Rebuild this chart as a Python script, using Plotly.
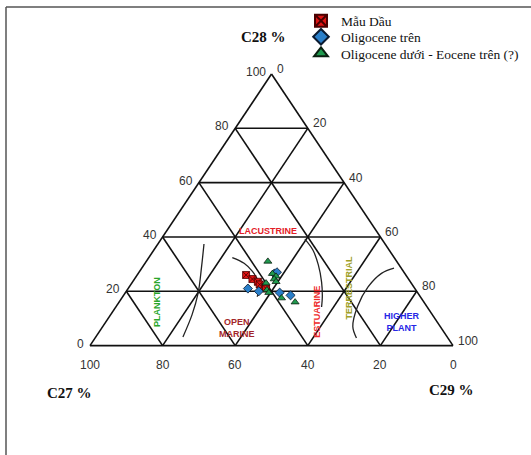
import plotly.graph_objects as go

# ---- sample compositions: C27 / C28 / C29 steranes (%) ----
mau_dau_c27 = [44, 43, 42, 42, 41, 41]
mau_dau_c28 = [26, 24.5, 23.5, 22.5, 21.5, 21]
mau_dau_c29 = [30, 32.5, 34.5, 35.5, 37.5, 38]

olig_tren_c27 = [46, 43.5, 38, 35.5, 36, 35]
olig_tren_c28 = [21, 20, 19.5, 18.5, 26.5, 27]
olig_tren_c29 = [33, 36.5, 42.5, 46, 37.5, 38]

olig_duoi_c27 = [35.5, 36.5, 36, 37, 37, 40, 41, 41, 38.5, 35.5]
olig_duoi_c28 = [31, 26.5, 25.5, 24.5, 23.5, 23, 20.5, 19.5, 17.5, 16]
olig_duoi_c29 = [33.5, 37, 38.5, 38.5, 39.5, 37, 38.5, 39.5, 44, 48.5]

# ---- depositional-environment boundary curves (C28, C29 in %) ----
plankton_c28 = [37.4, 28.6, 19.4, 11.3, 3.2]
plankton_c29 = [12.7, 16.4, 20.1, 22.45, 24.0]

marine_c28 = [32.4, 30.3, 27.3, 23.6, 20.5, 18.0]
marine_c29 = [23.0, 27.3, 31.1, 34.6, 36.7, 37.0]

estuarine_c28 = [39.2, 35.2, 29.7, 23.4, 17.9, 14.2]
estuarine_c29 = [39.6, 43.8, 48.05, 52.1, 55.05, 56.7]

higher_c28 = [28.5, 26.6, 21.6, 14.4, 7.0, 2.8]
higher_c29 = [69.5, 67.0, 65.8, 66.5, 68.9, 72.0]

ticks = [0, 20, 40, 60, 80, 100]
grid_vals = [20, 40, 60, 80]


def proj(c27, c28, c29):
    """Ternary (C27, C28, C29) -> cartesian (x, y); C27 left, C29 right, C28 apex."""
    xs, ys = [], []
    for a, b, c in zip(c27, c28, c29):
        s = a + b + c
        xs.append(100 * (c + b / 2) / s)
        ys.append(100 * b / s)
    return xs, ys


fig = go.Figure()

# ---- triangle outline and grid ----
line_style = dict(color="#111111", width=1.6)
seg_x, seg_y = [], []


def add_seg(p, q):
    x, y = proj([p[0], q[0]], [p[1], q[1]], [p[2], q[2]])
    seg_x.extend(x + [None])
    seg_y.extend(y + [None])


add_seg((100, 0, 0), (0, 100, 0))
add_seg((0, 100, 0), (0, 0, 100))
add_seg((0, 0, 100), (100, 0, 0))
for v in grid_vals:
    add_seg((100 - v, v, 0), (0, v, 100 - v))      # constant C28
    add_seg((v, 100 - v, 0), (v, 0, 100 - v))      # constant C27
    add_seg((0, 100 - v, v), (100 - v, 0, v))      # constant C29

fig.add_trace(go.Scatter(x=seg_x, y=seg_y, mode="lines", line=line_style,
                         hoverinfo="skip", showlegend=False))

# ---- environment boundary curves ----
for c28, c29 in [(plankton_c28, plankton_c29), (marine_c28, marine_c29),
                 (estuarine_c28, estuarine_c29), (higher_c28, higher_c29)]:
    c27 = [100 - a - b for a, b in zip(c28, c29)]
    x, y = proj(c27, c28, c29)
    fig.add_trace(go.Scatter(x=x, y=y, mode="lines",
                             line=dict(color="#222222", width=1.3, shape="spline"),
                             hoverinfo="skip", showlegend=False))

# ---- samples (each series gets its own legend row) ----
series = [
    ("Mẫu Dầu", mau_dau_c27, mau_dau_c28, mau_dau_c29,
     dict(symbol="square-x", color="#e01414", size=7,
          line=dict(color="#4a0000", width=0.8)), "legend"),
    ("Oligocene trên", olig_tren_c27, olig_tren_c28, olig_tren_c29,
     dict(symbol="diamond", color="#2a7fc9", size=7,
          line=dict(color="#0a1a30", width=0.8)), "legend2"),
    ("Oligocene dưới - Eocene trên (?)", olig_duoi_c27, olig_duoi_c28, olig_duoi_c29,
     dict(symbol="triangle-up", color="#1f9a4e", size=7,
          line=dict(color="#0a2010", width=0.8)), "legend3"),
]
for name, a, b, c, mk, lg in series:
    x, y = proj(a, b, c)
    fig.add_trace(go.Scatter(x=x, y=y, mode="markers", name=name, marker=mk,
                             legend=lg))

# ---- tick labels ----
tick_font = dict(family="Liberation Sans, Arial", size=12, color="#333333")
for v in ticks:
    # C28 along the left edge
    x, y = proj([100 - v], [v], [0])
    fig.add_annotation(x=x[0], y=y[0], text=str(v), showarrow=False,
                       xanchor="right", yanchor="middle", xshift=-4, yshift=2,
                       font=tick_font)
    # C29 along the right edge
    x, y = proj([0], [100 - v], [v])
    fig.add_annotation(x=x[0], y=y[0], text=str(v), showarrow=False,
                       xanchor="left", yanchor="middle", xshift=3, yshift=5,
                       font=tick_font)
    # C27 along the base
    x, y = proj([v], [0], [100 - v])
    fig.add_annotation(x=x[0], y=y[0], text=str(v), showarrow=False,
                       xanchor="center", yanchor="middle", yshift=-19,
                       font=tick_font)

# ---- axis titles ----
title_font = dict(family="Liberation Serif", size=15, color="#111111")
for txt, px, py in [("<b>C28 %</b>", 263, 37), ("<b>C27 %</b>", 69, 393),
                    ("<b>C29 %</b>", 451, 390)]:
    fig.add_annotation(x=px / 531, y=1 - py / 455, xref="paper", yref="paper",
                       text=txt, showarrow=False, font=title_font,
                       xanchor="center", yanchor="middle")

# ---- environment labels ----
env_font = "Liberation Sans"
env_labels = [
    ("<b>LACUSTRINE</b>", 49.0, 42.2, "#e42028", 0),
    ("<b>PLANKTON</b>", 18.5, 16.1, "#2aa62a", -90),
    ("<b>OPEN<br>MARINE</b>", 40.5, 6.5, "#a3262a", 0),
    ("<b>ESTUARINE</b>", 62.5, 12.4, "#ee2a2a", -90),
    ("<b>TERRESTRIAL</b>", 71.2, 21.6, "#a0a028", -90),
    ("<b>HIGHER<br>PLANT</b>", 86.0, 8.7, "#2626e6", 0),
]
for txt, x, y, col, ang in env_labels:
    fig.add_annotation(x=x, y=y, text=txt, showarrow=False, textangle=ang,
                       font=dict(family=env_font, size=9, color=col),
                       xanchor="center", yanchor="middle")

# ---- frame lines (top and left) ----
frame = dict(color="#555555", width=1.5)
fig.add_shape(type="line", xref="paper", yref="paper",
              x0=6 / 531, x1=1, y0=1 - 7 / 455, y1=1 - 7 / 455, line=frame)
fig.add_shape(type="line", xref="paper", yref="paper",
              x0=6 / 531, x1=6 / 531, y0=0, y1=1 - 7 / 455, line=frame)

# ---- legends: one row each, stacked top-right ----
legend_font = dict(family="Liberation Serif", size=13.5, color="#111111")


def legend_box(top_px):
    return dict(x=301 / 531, y=1 - top_px / 455, xanchor="left", yanchor="top",
                bgcolor="rgba(0,0,0,0)", borderwidth=0, itemsizing="constant",
                font=legend_font)


# pixel scale: base spans 363 px from x=90, height 271.6 px above y=345.6
sx, sy = 3.63, 2.716
fig.update_layout(
    width=531, height=455,
    margin=dict(l=0, r=0, t=0, b=0),
    paper_bgcolor="white", plot_bgcolor="white",
    xaxis=dict(range=[-90 / sx, (531 - 90) / sx], visible=False, fixedrange=True),
    yaxis=dict(range=[(345.6 - 455) / sy, 345.6 / sy], visible=False, fixedrange=True),
    showlegend=True,
    legend=legend_box(5.5),
    legend2=legend_box(21.5),
    legend3=legend_box(38),
)

fig.write_html("out.html")
